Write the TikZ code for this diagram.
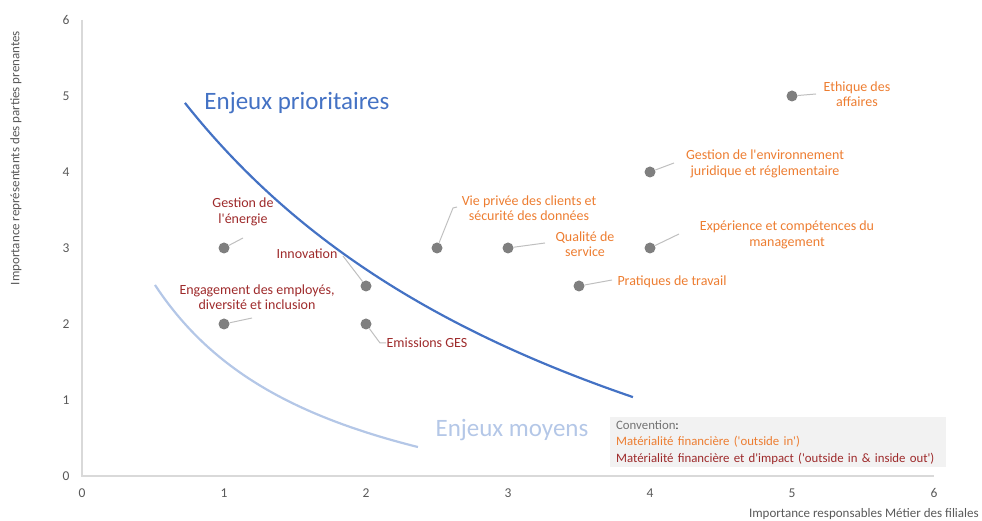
\documentclass[tikz,border=0pt]{standalone}
\usepackage{fontspec}
\setmainfont{Carlito}
\usepackage{xcolor}
\usepackage{tikz}
\usetikzlibrary{positioning}
\definecolor{prioblue}{HTML}{4472C4}
\definecolor{moyblue}{HTML}{B4C7E7}
\definecolor{finorange}{HTML}{ED7D31}
\definecolor{impred}{HTML}{9E2A2B}
\definecolor{axisgray}{HTML}{D9D9D9}
\definecolor{dotgray}{HTML}{7F7F7F}
\definecolor{leadgray}{HTML}{BFBFBF}
\definecolor{boxgray}{HTML}{F2F2F2}
\newcommand{\apos}{\textquotesingle}
\tikzstyle{dot} = [circle, fill=dotgray, inner sep=0pt, minimum size=11pt]
\tikzstyle{leader} = [draw=leadgray, line width=1pt]
\tikzstyle{orangelbl} = [text=finorange, align=center, font=\fontsize{14}{15.5}\selectfont]
\tikzstyle{redlbl} = [text=impred, align=center, font=\fontsize{14}{15.5}\selectfont]
\tikzstyle{tick} = [text=black!65, font=\fontsize{13.5}{15}\selectfont]
\tikzstyle{axtitle} = [text=black!65, font=\fontsize{13}{15}\selectfont]

\begin{document}
\begin{tikzpicture}[x=142pt, y=76pt]
		\useasboundingbox (-82pt,-45pt) rectangle (900pt,476pt);
		\draw [axisgray, line width=1.2pt] (0,6) -- (0,0) -- (6,0);
		\foreach \k in {0,...,6} {
			\node [tick] (ty\k) at ([xshift=-16pt]0,\k) {\k};
			\node [tick] (tx\k) at ([yshift=-17pt]\k,0) {\k};
		}
		\node [axtitle, rotate=90] (ytitle) at (-0.465,4.184) {Importance représentants des parties prenantes};
		\node [axtitle, anchor=east] (xtitle) at (6.34,-0.5) {Importance responsables Métier des filiales};
		
		\draw [prioblue, line width=2.2pt] plot [domain=0.725:3.88, samples=80, smooth] (\x, {27.71/(\x+2.705)-3.17});
		\draw [moyblue, line width=2.2pt] plot [domain=0.514:2.366, samples=60, smooth] (\x, {4.56/(\x+0.755)-1.08});
		\node [text=prioblue, font=\fontsize{25}{28}\selectfont] (prio) at (1.514,4.908) {Enjeux prioritaires};
		\node [text=moyblue, font=\fontsize{25}{28}\selectfont] (moyens) at (3.028,0.605) {Enjeux moyens};
		
		\node [dot] (ethique) at (5,5) {};
		\node [dot] (juridique) at (4,4) {};
		\node [dot] (management) at (4,3) {};
		\node [dot] (donnees) at (2.5,3) {};
		\node [dot] (qualite) at (3,3) {};
		\node [dot] (pratiques) at (3.5,2.5) {};
		\node [dot] (energie) at (1,3) {};
		\node [dot] (innovation) at (2,2.5) {};
		\node [dot] (engagement) at (1,2) {};
		\node [dot] (ges) at (2,2) {};
		
		\node [orangelbl] (lethique) at ([shift={(65pt,2pt)}]ethique) {Ethique des\\affaires};
		\node [orangelbl] (ljuridique) at ([shift={(115pt,8pt)}]juridique) {Gestion de l\apos environnement\\juridique et réglementaire};
		\node [orangelbl] (lmanagement) at ([shift={(137pt,13pt)}]management) {Expérience et compétences du\\management};
		\node [orangelbl] (ldonnees) at ([shift={(92pt,40pt)}]donnees) {Vie privée des clients et\\sécurité des données};
		\node [orangelbl] (lqualite) at ([shift={(77pt,4pt)}]qualite) {Qualité de\\service};
		\node [orangelbl] (lpratiques) at ([shift={(93pt,4pt)}]pratiques) {Pratiques de travail};
		\node [redlbl] (lenergie) at ([shift={(19pt,36pt)}]energie) {Gestion de\\l\apos énergie};
		\node [redlbl] (linnovation) at ([shift={(-59pt,32pt)}]innovation) {Innovation};
		\node [redlbl] (lengagement) at ([shift={(33pt,27pt)}]engagement) {Engagement des employés,\\diversité et inclusion};
		\node [redlbl] (lges) at ([shift={(61pt,-19pt)}]ges) {Emissions GES};
		
		\path (ethique) ++(24pt,2pt) coordinate (cethique);
		\path (juridique) ++(24pt,9pt) coordinate (cjuridique);
		\path (management) ++(29pt,14pt) coordinate (cmanagement);
		\path (donnees) ++(16pt,40pt) coordinate (cdonnees);
		\path (qualite) ++(37pt,5pt) coordinate (cqualite);
		\path (pratiques) ++(33pt,6pt) coordinate (cpratiques);
		\path (energie) ++(19pt,10pt) coordinate (cenergie);
		\path (innovation) ++(-23pt,30pt) coordinate (cinnovation);
		\path (engagement) ++(28pt,6pt) coordinate (cengagement);
		\path (ges) ++(14pt,-19pt) coordinate (cges);
		
		\draw [leader] (ethique) -- (cethique);
		\draw [leader] (juridique) -- (cjuridique);
		\draw [leader] (management) -- (cmanagement);
		\draw [leader] (donnees) -- (cdonnees) -- ++(4pt,1pt);
		\draw [leader] (qualite) -- (cqualite);
		\draw [leader] (pratiques) -- (cpratiques);
		\draw [leader] (energie) -- (cenergie);
		\draw [leader] (innovation) -- (cinnovation);
		\draw [leader] (engagement) -- (cengagement);
		\draw [leader] (ges) -- (cges) -- ++(6pt,0);
		
		\node [fill=boxgray, anchor=north west, align=left, text width=324pt, inner xsep=6pt, inner ysep=3pt, font=\fontsize{12.8}{16.5}\selectfont] (legende) at (3.718,0.776) {{\color{black!55}Convention}{\color{black!80}:}\\{\color{finorange}Matérialité financière (\apos outside in\apos)}\\{\color{impred}Matérialité financière et d\apos impact (\apos outside in \& inside out\apos)}};
	\end{tikzpicture}
\end{document}
